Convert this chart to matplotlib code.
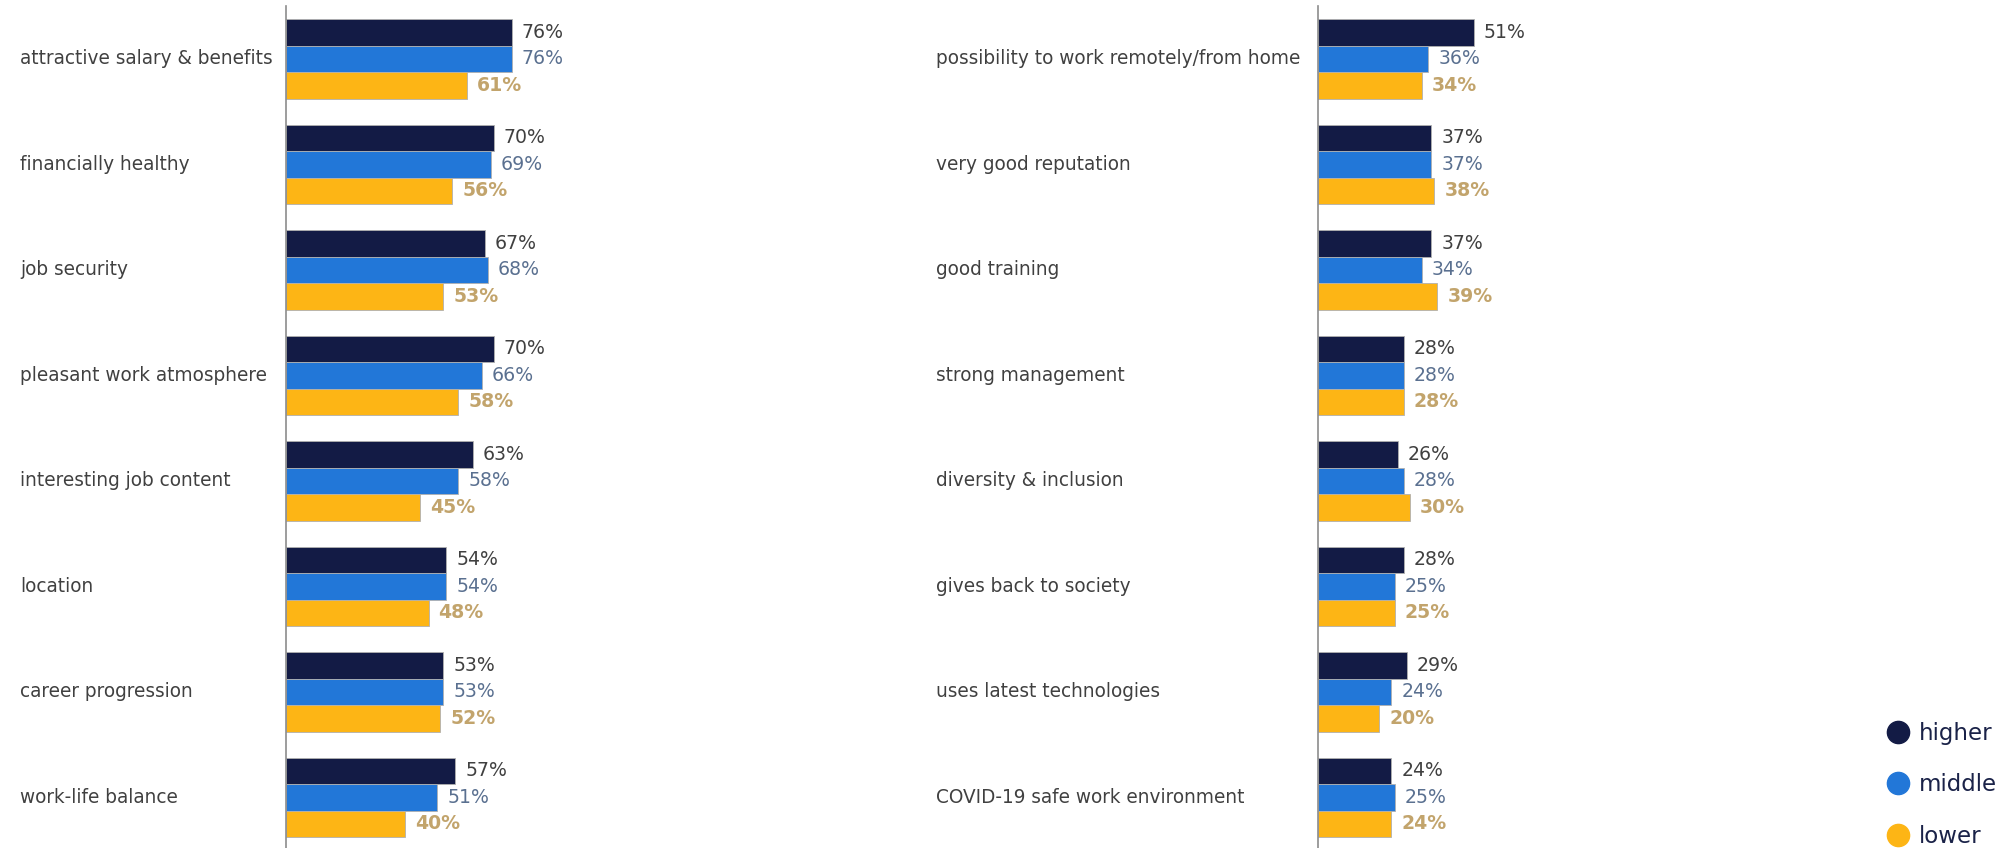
"""
Employer attributes rated as important, split by education level.
Two panels of grouped horizontal bars (higher / middle / lower).
"""
import matplotlib.pyplot as plt
from matplotlib.lines import Line2D

plt.rcParams["font.family"] = ["DejaVu Sans"]

left_items = [
    "attractive salary & benefits",
    "financially healthy",
    "job security",
    "pleasant work atmosphere",
    "interesting job content",
    "location",
    "career progression",
    "work-life balance",
]
left_higher = [76, 70, 67, 70, 63, 54, 53, 57]
left_middle = [76, 69, 68, 66, 58, 54, 53, 51]
left_lower = [61, 56, 53, 58, 45, 48, 52, 40]

right_items = [
    "possibility to work remotely/from home",
    "very good reputation",
    "good training",
    "strong management",
    "diversity & inclusion",
    "gives back to society",
    "uses latest technologies",
    "COVID-19 safe work environment",
]
right_higher = [51, 37, 37, 28, 26, 28, 29, 24]
right_middle = [36, 37, 34, 28, 28, 25, 24, 25]
right_lower = [34, 38, 39, 28, 30, 25, 20, 24]

series_names = ["higher", "middle", "lower"]
bar_colors = ["#131b45", "#2277d8", "#fdb515"]
value_colors = ["#404040", "#5a7090", "#c2a46c"]
value_weights = ["normal", "normal", "bold"]

W, H = 2010, 848
fig = plt.figure(figsize=(W / 100, H / 100), dpi=100)

BAR_H = 0.251


def panel(x0_px, px_per_pct, label_x_px, items, series):
    ax = fig.add_axes([x0_px / W, 0.0, 100 * px_per_pct / W, 1 - 6 / H])
    ax.set_xlim(0, 100)
    ax.set_ylim(7.479, -0.502)
    for k, vals in enumerate(series):
        ys = [i + (k - 1) * BAR_H for i in range(len(items))]
        ax.barh(ys, vals, height=BAR_H, color=bar_colors[k],
                edgecolor="#b0b0b0", linewidth=0.6)
        for y, v in zip(ys, vals):
            ax.text(v + 10 / px_per_pct, y, f"{v}%", va="center", ha="left",
                    fontsize=13.6, color=value_colors[k],
                    fontweight=value_weights[k], clip_on=False)
    for i, name in enumerate(items):
        ax.annotate(name, xy=(0, i), xycoords=("axes fraction", "data"),
                    xytext=(label_x_px - x0_px, 0), textcoords="offset pixels",
                    va="center", ha="left", fontsize=13.35, color="#404040")
    ax.set_xticks([])
    ax.set_yticks([])
    for s in ["top", "right", "bottom"]:
        ax.spines[s].set_visible(False)
    ax.spines["left"].set_color("#8c8c8c")
    ax.spines["left"].set_linewidth(1.2)
    ax.patch.set_alpha(0)
    return ax


panel(286, 2.97, 20, left_items, [left_higher, left_middle, left_lower])
panel(1318, 3.06, 936, right_items, [right_higher, right_middle, right_lower])

handles = [Line2D([], [], marker="o", linestyle="", markersize=16,
                  markerfacecolor=c, markeredgecolor=c) for c in bar_colors]
fig.legend(handles, series_names, loc="upper left",
           bbox_to_anchor=(1864 / W, 1 - 701 / H), frameon=False,
           fontsize=16.5, labelspacing=1.25, handletextpad=0.28,
           labelcolor="#1a2248", handlelength=1.2)

fig.savefig("out.png", dpi=100, facecolor="white")
